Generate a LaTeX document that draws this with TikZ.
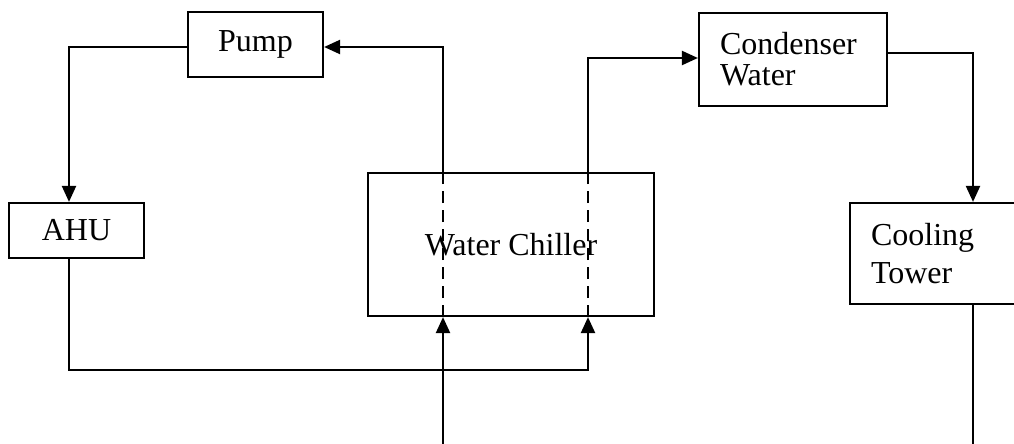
\documentclass[tikz,border=0pt]{standalone}
\usepackage{fontspec}
\setmainfont{Liberation Serif}
\usetikzlibrary{arrows.meta}
\begin{document}
\begin{tikzpicture}[x=1pt,y=-1pt,
  box/.style={draw,line width=2.2pt,inner sep=0pt,font=\fontsize{32}{31}\selectfont},
  flow/.style={line width=2.2pt,-{Triangle[length=16pt,width=14pt]}},
  pipe/.style={line width=2.2pt},
  hid/.style={line width=2.2pt,dash pattern=on 12pt off 7pt}]
\useasboundingbox (0,0) rectangle (1014,444);
\node[box,minimum width=135pt,minimum height=65pt] (pump) at (255.5,44.5) {Pump};
\node[box,minimum width=135pt,minimum height=55pt] (ahu) at (76.5,230.5) {AHU};
\node[box,minimum width=286pt,minimum height=143pt] (chiller) at (511,244.5) {Water Chiller};
\node[box,minimum height=93pt,text width=146pt,inner xsep=21pt,align=left] (cond) at (793,59.5) {Condenser\\Water};
\node[box,minimum height=101pt,text width=126pt,inner xsep=21pt,align=left,font=\fontsize{32}{38}\selectfont] (tower) at (934,253.5) {Cooling\\Tower};
\coordinate (xl) at (443,0);
\coordinate (xr) at (588,0);
\coordinate (xt) at (973,0);
\coordinate (inl) at (443,446);
\coordinate (outl) at (973,446);
\draw[flow] ([yshift=-2.5pt]pump.west) -| ([xshift=-7.5pt]ahu.north);
\draw[flow] ([xshift=-7.5pt]ahu.south) -- ++(0,111) -| (xr |- chiller.south);
\draw[flow] (inl) -- (xl |- chiller.south);
\draw[hid] (xl |- chiller.south) -- (xl |- chiller.north);
\draw[hid] (xr |- chiller.south) -- (xr |- chiller.north);
\draw[flow] (xl |- chiller.north) |- ([yshift=-2.5pt]pump.east);
\draw[flow] (xr |- chiller.north) |- ([yshift=1.5pt]cond.west);
\draw[flow] ([yshift=6.5pt]cond.east) -| (xt |- tower.north);
\draw[pipe] (xt |- tower.south) -- (outl);
\end{tikzpicture}
\end{document}
